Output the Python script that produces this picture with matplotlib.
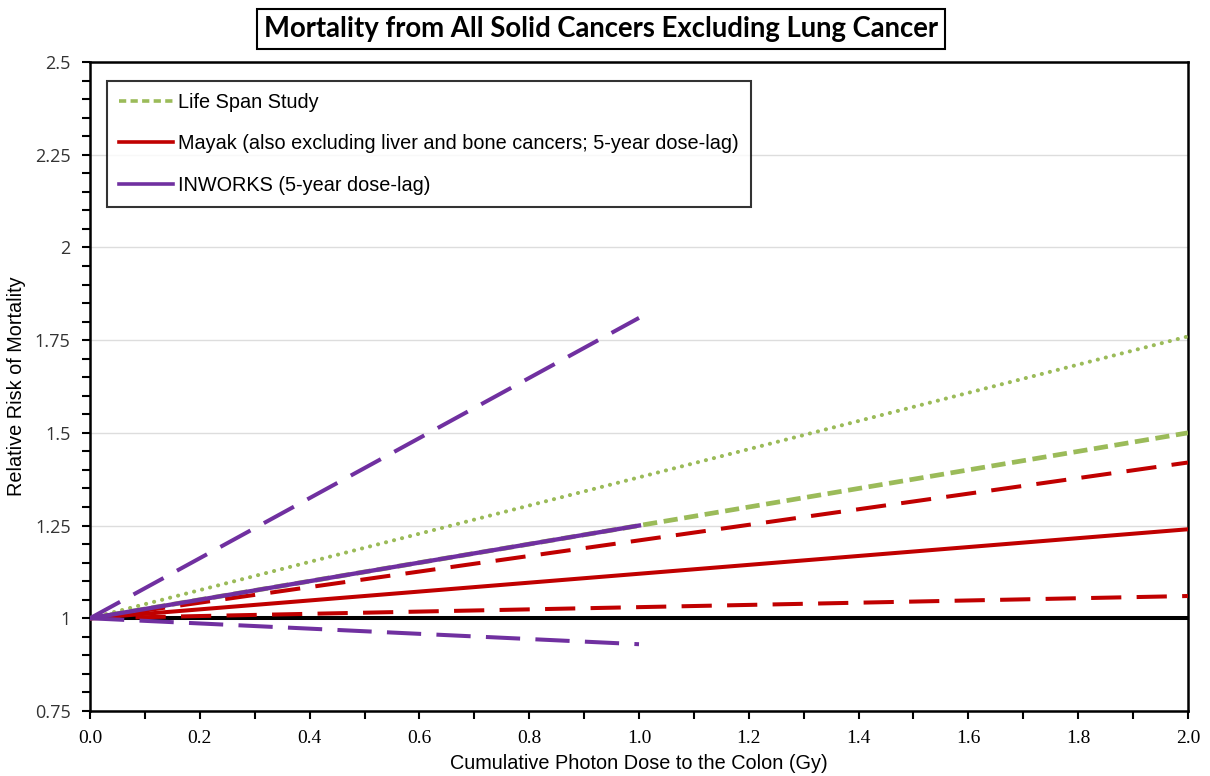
import matplotlib
matplotlib.use("Agg")
import matplotlib.pyplot as plt
from matplotlib.lines import Line2D
from matplotlib.ticker import MultipleLocator, FixedLocator

# dose range (Gy) for each study
dose_lss = [0.0, 2.0]
dose_mayak = [0.0, 2.0]
dose_inworks = [0.0, 1.0]

# relative risk at the ends of each range
lss_rr = [1.0, 1.50]
lss_upper = [1.0, 1.76]
mayak_rr = [1.0, 1.24]
mayak_upper = [1.0, 1.42]
mayak_lower = [1.0, 1.06]
inworks_rr = [1.0, 1.25]
inworks_upper = [1.0, 1.81]
inworks_lower = [1.0, 0.93]

baseline_x = [0.0, 2.0]
baseline_y = [1.0, 1.0]

yticks = [0.75, 1, 1.25, 1.5, 1.75, 2, 2.25, 2.5]
ytick_labels = ["0.75", "1", "1.25", "1.5", "1.75", "2", "2.25", "2.5"]
xticks = [0.0, 0.2, 0.4, 0.6, 0.8, 1.0, 1.2, 1.4, 1.6, 1.8, 2.0]

GREEN = "#9BBB59"
RED = "#C00000"
PURPLE = "#7030A0"
LW = 2.9

fig = plt.figure(figsize=(12.1, 7.76), dpi=100)
ax = fig.add_axes([0.0744, 0.0838, 0.9074, 0.8363])

ax.plot(baseline_x, baseline_y, color="black", lw=LW, zorder=2)

ax.plot(dose_lss, lss_upper, color=GREEN, lw=LW, linestyle=(0, (0.05, 2.0)),
        dash_capstyle="round", zorder=3)
ax.plot(dose_lss, lss_rr, color=GREEN, lw=3.4, linestyle=(0, (3.0, 1.4)), zorder=3)

ax.plot(dose_mayak, mayak_upper, color=RED, lw=LW, linestyle=(0, (7.5, 3.8)), zorder=4)
ax.plot(dose_mayak, mayak_lower, color=RED, lw=LW, linestyle=(0, (7.5, 3.8)), zorder=4)
ax.plot(dose_mayak, mayak_rr, color=RED, lw=LW, zorder=4)

ax.plot(dose_inworks, inworks_upper, color=PURPLE, lw=LW, linestyle=(0, (8.5, 3.8)), zorder=5)
ax.plot(dose_inworks, inworks_lower, color=PURPLE, lw=LW, linestyle=(0, (8.5, 3.8)), zorder=5)
ax.plot(dose_inworks, inworks_rr, color=PURPLE, lw=3.1, zorder=5)

ax.set_xlim(0, 2.0)
ax.set_ylim(0.75, 2.5)

ax.yaxis.set_major_locator(FixedLocator(yticks))
ax.set_yticklabels(ytick_labels, fontname="Open Sans", fontsize=13, color="#333333")
ax.yaxis.set_minor_locator(MultipleLocator(0.05))
ax.xaxis.set_major_locator(FixedLocator(xticks))
ax.set_xticklabels([f"{v:.1f}" for v in xticks], fontname="Liberation Serif",
                   fontsize=14)
ax.xaxis.set_minor_locator(MultipleLocator(0.1))

ax.tick_params(axis="both", which="both", direction="out", width=1.5, color="black")
ax.tick_params(axis="both", which="major", length=6)
ax.tick_params(axis="both", which="minor", length=6)
ax.tick_params(axis="y", which="major", pad=8)
ax.tick_params(axis="x", which="major", pad=8)

ax.grid(axis="y", which="major", color="#DDDDDD", lw=1.0, zorder=0)
ax.set_axisbelow(True)
for sp in ax.spines.values():
    sp.set_linewidth(1.8)

ax.set_xlabel("Cumulative Photon Dose to the Colon (Gy)", fontname="Liberation Sans",
              fontsize=14.3, labelpad=5)
ax.set_ylabel("Relative Risk of Mortality", fontname="Liberation Sans",
              fontsize=14.3, labelpad=6)

handles = [
    Line2D([], [], color=GREEN, lw=2.6, linestyle=(0, (2.0, 1.2))),
    Line2D([], [], color=RED, lw=2.6),
    Line2D([], [], color=PURPLE, lw=2.6),
]
labels = [
    "Life Span Study",
    "Mayak (also excluding liver and bone cancers; 5-year dose-lag)",
    "INWORKS (5-year dose-lag)",
]
leg = ax.legend(handles, labels, loc="upper left", bbox_to_anchor=(0.0155, 0.971),
                prop={"family": "Liberation Sans", "size": 14.3},
                frameon=True, fancybox=False, edgecolor="black",
                handlelength=2.7, handletextpad=0.25, labelspacing=1.12,
                borderpad=0.62, borderaxespad=0)
leg.get_frame().set_linewidth(1.5)

fig.text(0.497, 0.963, "Mortality from All Solid Cancers Excluding Lung Cancer",
         ha="center", va="center", fontname="Lato", fontweight="bold", fontsize=19.8,
         bbox=dict(boxstyle="square,pad=0.25", facecolor="white", edgecolor="black",
                   linewidth=1.5))

fig.savefig("out.png", dpi=100)
